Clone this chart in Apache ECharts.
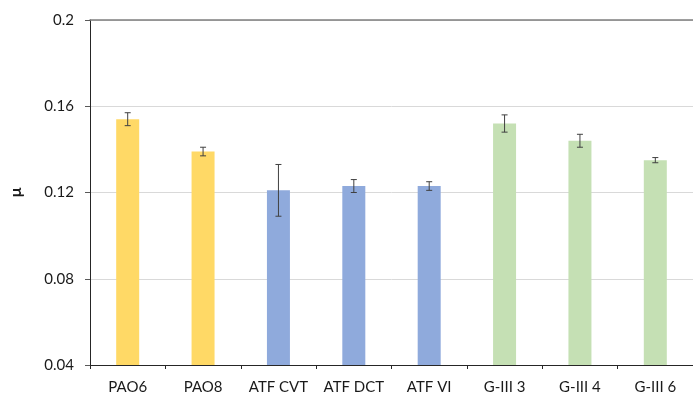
<!DOCTYPE html>
<html>
<head>
<meta charset="utf-8">
<script src="https://cdn.jsdelivr.net/npm/echarts@6/dist/echarts.min.js"></script>
<style>
  html, body { margin: 0; padding: 0; background: #fff; }
  #chart { width: 693px; height: 398px; }
</style>
</head>
<body>
<div id="chart"></div>
<script>
// Friction coefficient per lubricant, with standard deviation
const categories = ['PAO6', 'PAO8', 'ATF CVT', 'ATF DCT', 'ATF VI', 'G-III 3', 'G-III 4', 'G-III 6'];
const meanValues = [0.154, 0.139, 0.121, 0.123, 0.123, 0.152, 0.144, 0.135];
const errorValues = [0.003, 0.002, 0.012, 0.003, 0.002, 0.004, 0.003, 0.0012];
const barColors = ['#FFD966', '#FFD966', '#8FAADC', '#8FAADC', '#8FAADC', '#C5E0B4', '#C5E0B4', '#C5E0B4'];
const yTicks = { min: 0.04, max: 0.2, interval: 0.04 };

const font = 'Lato, "Open Sans", sans-serif';
const chart = echarts.init(document.getElementById('chart'));

const barData = meanValues.map((v, i) => ({ value: v, itemStyle: { color: barColors[i] } }));
const errData = meanValues.map((v, i) => [i, v - errorValues[i], v + errorValues[i]]);

chart.setOption({
  animation: false,
  grid: { left: 89, top: 20, bottom: 33, right: -10 },
  xAxis: [{
    type: 'category',
    data: categories,
    axisLine: { lineStyle: { color: '#262626', width: 1 } },
    axisTick: { show: true, length: 4, lineStyle: { color: '#262626' } },
    axisLabel: { color: '#1a1a1a', fontSize: 15, fontFamily: font, margin: 15, interval: 0, hideOverlap: false },
    splitLine: { show: false }
  }, {
    type: 'category',
    position: 'top',
    data: categories,
    axisLine: { lineStyle: { color: '#7f7f7f', width: 1.5 } },
    axisTick: { show: false },
    axisLabel: { show: false }
  }],
  yAxis: {
    type: 'value',
    min: yTicks.min,
    max: yTicks.max,
    interval: yTicks.interval,
    name: 'μ',
    nameLocation: 'middle',
    nameGap: 66,
    nameRotate: 90,
    nameTextStyle: { color: '#1a1a1a', fontSize: 16, fontWeight: 'bold', fontFamily: font },
    axisLine: { show: true, lineStyle: { color: '#262626', width: 1 } },
    axisTick: { show: true, length: 5, lineStyle: { color: '#595959' } },
    axisLabel: { color: '#1a1a1a', fontSize: 15, fontFamily: font, margin: 16 },
    splitLine: { lineStyle: { color: '#d9d9d9', width: 1 } }
  },
  series: [{
    type: 'bar',
    data: barData,
    barWidth: 23,
    z: 2
  }, {
    type: 'custom',
    data: errData,
    z: 3,
    renderItem: function (params, api) {
      const x = api.value(0);
      const lo = api.coord([x, api.value(1)]);
      const hi = api.coord([x, api.value(2)]);
      const cap = 3;
      const style = { stroke: '#404040', lineWidth: 1 };
      return {
        type: 'group',
        children: [
          { type: 'line', shape: { x1: hi[0], y1: hi[1], x2: lo[0], y2: lo[1] }, style: style },
          { type: 'line', shape: { x1: hi[0] - cap, y1: hi[1], x2: hi[0] + cap, y2: hi[1] }, style: style },
          { type: 'line', shape: { x1: lo[0] - cap, y1: lo[1], x2: lo[0] + cap, y2: lo[1] }, style: style }
        ]
      };
    }
  }]
});
</script>
</body>
</html>
